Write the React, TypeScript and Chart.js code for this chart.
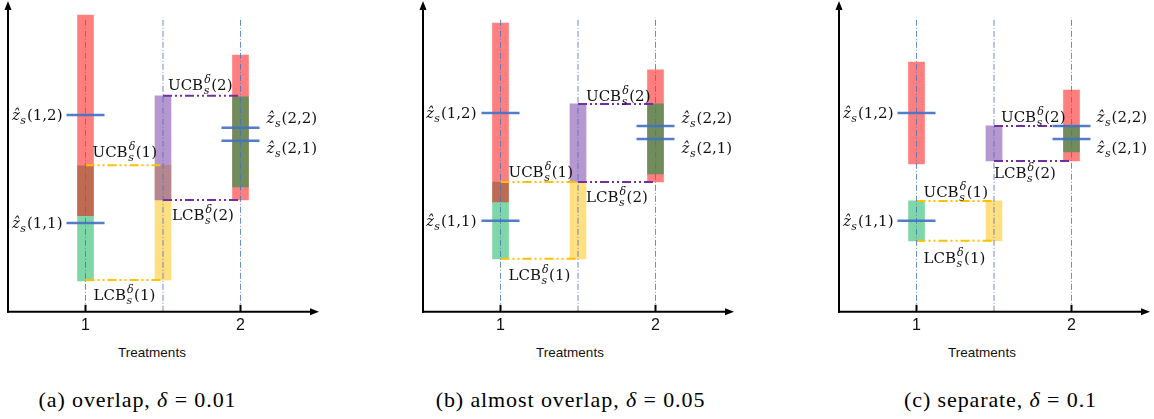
import React, { useEffect, useRef } from 'react';
import { Chart, registerables } from 'chart.js';

Chart.register(...registerables);
if (typeof document !== 'undefined') document.body.style.margin = '0';

// ---------------- data ----------------
const TREATMENTS = [1, 2];
const TICK_LABELS = ['1', '2'];
const MIDPOINT = 1.5;
const X_MIN = 0.5;
const X_MAX = 2.5;
const Y_MIN = 0;
const Y_MAX = 10;
const VLINE_TOP = 9.5;

// [low, high] per panel (a, b, c)
const T1_ARM2 = [[3.10, 9.58], [3.55, 9.32], [4.77, 8.06]];
const T1_ARM1 = [[1.00, 4.71], [1.71, 4.19], [2.29, 3.58]];
const T2_ARM2 = [[3.61, 8.29], [4.19, 7.81], [4.87, 7.16]];
const T2_ARM1 = [[4.03, 6.94], [4.45, 6.71], [5.16, 6.00]];
const ZHAT_11 = [2.87, 2.94, 2.94];
const ZHAT_12 = [6.35, 6.42, 6.42];
const ZHAT_21 = [5.52, 5.58, 5.58];
const ZHAT_22 = [5.94, 6.00, 6.00];
const UCB_1 = [4.73, 4.19, 3.58];
const LCB_1 = [1.03, 1.71, 2.29];
const UCB_2 = [6.97, 6.71, 6.00];
const LCB_2 = [3.61, 4.19, 4.87];

const CAPTION_NAMES = ['(a) overlap, ', '(b) almost overlap, ', '(c) separate, '];
const DELTAS = ['0.01', '0.05', '0.1'];
const AXIS_TITLE = 'Treatments';

// ---------------- styles / layout ----------------
const RED = 'rgba(255,0,0,0.5)';
const GREEN = 'rgba(0,176,80,0.5)';
const GREEN_DARK = 'rgba(0,149,60,0.56)';
const YELLOW = 'rgba(255,192,0,0.5)';
const PURPLE = 'rgba(112,48,160,0.5)';
const BLUE = 'rgba(68,114,196,0.92)';
const VLINE_COLOR = 'rgba(68,114,196,0.8)';
const YELLOW_LINE = '#FFC000';
const PURPLE_LINE = '#7030A0';

const CANVAS_LEFT = [0, 400, 790];
const CANVAS_W = [400, 390, 364];
const PAD_LEFT = [8, 23, 49];
const PLOT_W = 310;
const TICK_FONT_PX = 16;
const TICK_PAD = 4;
const CANVAS_H = Math.round(312 + 2 * TICK_PAD + TICK_FONT_PX * 1.2);
const TITLE_CX = [152, 570, 982];
const CAPTION_CX = [137.5, 570.5, 1000.5];

// label offsets in px: [dx, dy] per panel
const OFF = {
  z1: [[-23, 0], [-24, 0], [-23, 0]],
  z22: [[26, -10], [26, -8], [25, -9]],
  z21: [[26, 7], [26, 9], [25, 9]],
  ucb1: [[7, -13], [8, -10], [7, -9]],
  lcb1: [[8, 15], [8, 16], [7, 17]],
  ucb2: [[5, -11], [8, -8], [7, -9]],
  lcb2: [[9, 15], [8, 15], [0, 12]],
};

type Tok = { t: string; it?: boolean; sub?: string; sup?: string };
const MAIN_PX = 15;
const SCRIPT_PX = 11;
const fnt = (px: number, it?: boolean) => `${it ? 'italic ' : ''}${px}px "DejaVu Serif"`;

function measureToks(ctx: CanvasRenderingContext2D, toks: Tok[]) {
  let w = 0;
  for (const k of toks) {
    ctx.font = fnt(MAIN_PX, k.it);
    w += ctx.measureText(k.t).width;
    let sw = 0;
    ctx.font = fnt(SCRIPT_PX, true);
    if (k.sub) sw = Math.max(sw, ctx.measureText(k.sub).width);
    if (k.sup) sw = Math.max(sw, ctx.measureText(k.sup).width);
    if (sw) w += sw + 1.5;
  }
  return w;
}

function drawToks(ctx: CanvasRenderingContext2D, toks: Tok[], x: number, base: number) {
  let cx = x;
  ctx.textBaseline = 'alphabetic';
  ctx.textAlign = 'left';
  for (const k of toks) {
    ctx.font = fnt(MAIN_PX, k.it);
    ctx.fillText(k.t, cx, base);
    cx += ctx.measureText(k.t).width;
    ctx.font = fnt(SCRIPT_PX, true);
    let sw = 0;
    if (k.sub) {
      ctx.fillText(k.sub, cx + 0.5, base + 4);
      sw = Math.max(sw, ctx.measureText(k.sub).width);
    }
    if (k.sup) {
      ctx.fillText(k.sup, cx + 1, base - 7);
      sw = Math.max(sw, ctx.measureText(k.sup).width);
    }
    if (sw) cx += sw + 1.5;
  }
}

const zhatToks = (i: number, j: number): Tok[] => [{ t: 'ẑ', it: true, sub: 's' }, { t: `(${i},${j})` }];
const cbToks = (kind: string, t: number): Tok[] => [{ t: kind, sub: 's', sup: 'δ' }, { t: `(${t})` }];

function Panel({ p }: { p: number }) {
  const ref = useRef<HTMLCanvasElement>(null);
  useEffect(() => {
    const canvas = ref.current!;
    const [x1, x2] = TREATMENTS;
    const bar = (x: number, range: number[], color: string, order: number) => ({
      type: 'bar' as const,
      data: [{ x, y: range }],
      backgroundColor: color,
      borderWidth: 0,
      barThickness: 16,
      grouped: false,
      order,
    });
    const hline = (xa: number, xb: number, y: number, color: string) => ({
      type: 'line' as const,
      data: [{ x: xa, y }, { x: xb, y }],
      borderColor: color,
      borderWidth: 2,
      borderDash: [9, 3, 2, 3, 2, 3],
      pointRadius: 0,
      fill: false,
      order: 2,
    });
    const vline = (x: number) => ({
      type: 'line' as const,
      data: [{ x, y: Y_MIN }, { x, y: VLINE_TOP }],
      borderColor: VLINE_COLOR,
      borderWidth: 1,
      borderDash: [6, 2, 1, 2],
      pointRadius: 0,
      fill: false,
      order: 1,
    });
    const datasets: any[] = [
      {
        type: 'scatter',
        data: [
          { x: x1, y: ZHAT_12[p] },
          { x: x1, y: ZHAT_11[p] },
          { x: x2, y: ZHAT_22[p] },
          { x: x2, y: ZHAT_21[p] },
        ],
        pointStyle: 'line',
        pointRadius: 19,
        pointHoverRadius: 19,
        borderWidth: 2.5,
        borderColor: BLUE,
        backgroundColor: BLUE,
        clip: false,
        order: 0,
      },
      vline(x1),
      vline(MIDPOINT),
      vline(x2),
      hline(x1, MIDPOINT, UCB_1[p], YELLOW_LINE),
      hline(x1, MIDPOINT, LCB_1[p], YELLOW_LINE),
      hline(MIDPOINT, x2, UCB_2[p], PURPLE_LINE),
      hline(MIDPOINT, x2, LCB_2[p], PURPLE_LINE),
      bar(x1, T1_ARM2[p], RED, 3),
      bar(x1, T1_ARM1[p], GREEN, 4),
      bar(MIDPOINT, [LCB_2[p], UCB_2[p]], PURPLE, 3),
      bar(MIDPOINT, [LCB_1[p], UCB_1[p]], YELLOW, 4),
      bar(x2, T2_ARM1[p], GREEN_DARK, 3),
      bar(x2, T2_ARM2[p], RED, 4),
    ];

    const labels = [
      { x: x1, y: ZHAT_12[p], off: OFF.z1[p], right: true, toks: zhatToks(1, 2) },
      { x: x1, y: ZHAT_11[p], off: OFF.z1[p], right: true, toks: zhatToks(1, 1) },
      { x: x2, y: ZHAT_22[p], off: OFF.z22[p], right: false, toks: zhatToks(2, 2) },
      { x: x2, y: ZHAT_21[p], off: OFF.z21[p], right: false, toks: zhatToks(2, 1) },
      { x: x1, y: UCB_1[p], off: OFF.ucb1[p], right: false, toks: cbToks('UCB', 1) },
      { x: x1, y: LCB_1[p], off: OFF.lcb1[p], right: false, toks: cbToks('LCB', 1) },
      { x: MIDPOINT, y: UCB_2[p], off: OFF.ucb2[p], right: false, toks: cbToks('UCB', 2) },
      { x: MIDPOINT, y: LCB_2[p], off: OFF.lcb2[p], right: false, toks: cbToks('LCB', 2) },
    ];

    const mathLabels = {
      id: 'mathLabels',
      afterDatasetsDraw(chart: any) {
        const { ctx, scales } = chart;
        ctx.save();
        ctx.fillStyle = '#111';
        for (const l of labels) {
          const px = scales.x.getPixelForValue(l.x) + l.off[0];
          const cy = scales.y.getPixelForValue(l.y) + l.off[1];
          const w = measureToks(ctx, l.toks);
          drawToks(ctx, l.toks, l.right ? px - w : px, cy + 5);
        }
        ctx.restore();
      },
    };

    const arrowAxes = {
      id: 'arrowAxes',
      afterDraw(chart: any) {
        const { ctx, chartArea, scales } = chart;
        const { left, right, top, bottom } = chartArea;
        ctx.save();
        ctx.strokeStyle = '#000';
        ctx.fillStyle = '#000';
        ctx.lineWidth = 2;
        ctx.beginPath();
        ctx.moveTo(left, bottom + 1);
        ctx.lineTo(left, top + 6);
        ctx.stroke();
        ctx.beginPath();
        ctx.moveTo(left, top - 1);
        ctx.lineTo(left - 3.5, top + 8);
        ctx.lineTo(left + 3.5, top + 8);
        ctx.closePath();
        ctx.fill();
        ctx.beginPath();
        ctx.moveTo(left - 1, bottom);
        ctx.lineTo(right - 6, bottom);
        ctx.stroke();
        ctx.beginPath();
        ctx.moveTo(right + 1, bottom);
        ctx.lineTo(right - 8, bottom - 3.5);
        ctx.lineTo(right - 8, bottom + 3.5);
        ctx.closePath();
        ctx.fill();
        for (const t of TREATMENTS) {
          const px = scales.x.getPixelForValue(t);
          ctx.beginPath();
          ctx.moveTo(px, bottom - 7);
          ctx.lineTo(px, bottom);
          ctx.stroke();
        }
        ctx.restore();
      },
    };

    const chart = new Chart(canvas, {
      type: 'bar',
      data: { datasets },
      options: {
        animation: false,
        responsive: false,
        devicePixelRatio: 1,
        events: [],
        layout: {
          autoPadding: false,
          padding: { left: PAD_LEFT[p], right: CANVAS_W[p] - PAD_LEFT[p] - PLOT_W, top: 2, bottom: 0 },
        },
        plugins: { legend: { display: false }, tooltip: { enabled: false } },
        scales: {
          x: {
            type: 'linear',
            min: X_MIN,
            max: X_MAX,
            offset: false,
            grid: { display: false, drawTicks: false },
            border: { display: false },
            afterBuildTicks: (scale: any) => {
              scale.ticks = TREATMENTS.map((v) => ({ value: v }));
            },
            ticks: {
              padding: TICK_PAD,
              color: '#111',
              font: { family: '"Liberation Sans"', size: TICK_FONT_PX },
              callback: (v: any) => TICK_LABELS[TREATMENTS.indexOf(Number(v))] ?? '',
            },
          },
          y: { type: 'linear', min: Y_MIN, max: Y_MAX, display: false },
        },
      } as any,
      plugins: [arrowAxes, mathLabels],
    });
    return () => chart.destroy();
  }, [p]);
  return (
    <canvas
      ref={ref}
      width={CANVAS_W[p]}
      height={CANVAS_H}
      style={{ position: 'absolute', left: CANVAS_LEFT[p], top: 0, width: CANVAS_W[p], height: CANVAS_H }}
    />
  );
}

export default function App() {
  return (
    <div style={{ position: 'relative', width: 1154, height: 419, background: '#fff', overflow: 'hidden' }}>
      {[0, 1, 2].map((p) => (
        <React.Fragment key={p}>
          <Panel p={p} />
          <div
            style={{
              position: 'absolute',
              left: TITLE_CX[p] - 100,
              width: 200,
              top: 345,
              textAlign: 'center',
              font: '13.5px "Liberation Sans", sans-serif',
              lineHeight: '16px',
              color: '#111',
            }}
          >
            {AXIS_TITLE}
          </div>
          <div
            style={{
              position: 'absolute',
              left: CAPTION_CX[p] - 200,
              width: 400,
              top: 388,
              textAlign: 'center',
              font: '22px "Liberation Serif", serif',
              letterSpacing: '0.9px',
              lineHeight: '24px',
              color: '#000',
              whiteSpace: 'nowrap',
            }}
          >
            {CAPTION_NAMES[p]}
            <i>δ</i> = {DELTAS[p]}
          </div>
        </React.Fragment>
      ))}
    </div>
  );
}
